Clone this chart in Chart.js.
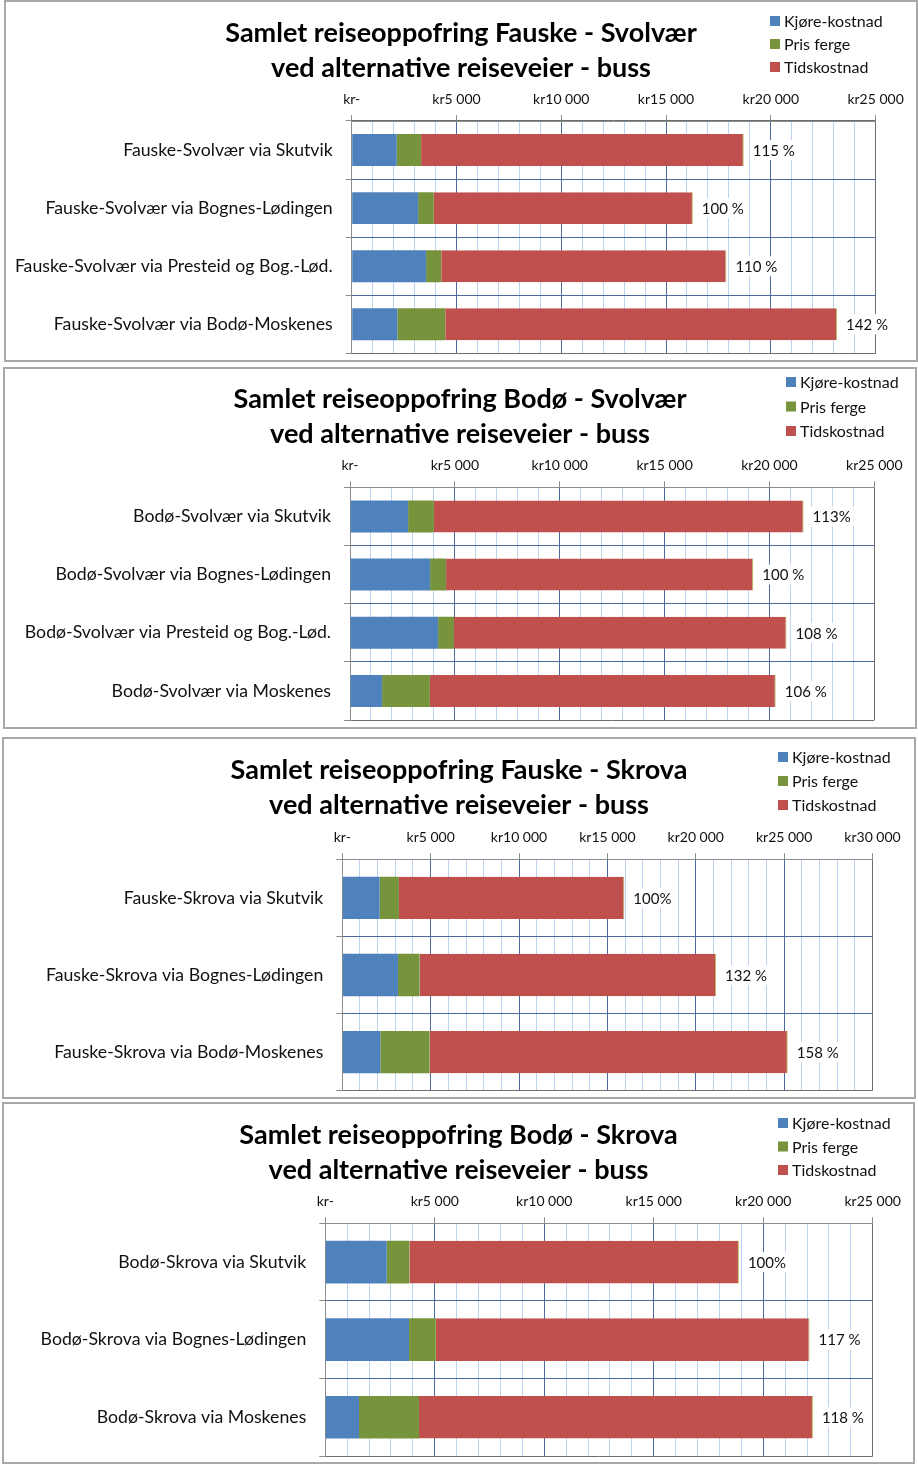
<!DOCTYPE html>
<html><head><meta charset="utf-8">
<script src="https://cdn.jsdelivr.net/npm/chart.js@4.4.1/dist/chart.umd.min.js"></script>
<style>
body{margin:0;background:#fff;width:918px;height:1466px;position:relative;overflow:hidden}
.panel{position:absolute;box-sizing:border-box;border:2px solid #a8a8a8;background:#fff}
.panel canvas{position:absolute;left:0;top:0}
</style></head><body>
<div class="panel" id="p1" style="left:4px;top:0px;width:914px;height:362px"><canvas id="c1"></canvas></div>
<div class="panel" id="p2" style="left:3px;top:367px;width:914px;height:362px"><canvas id="c2"></canvas></div>
<div class="panel" id="p3" style="left:2px;top:737px;width:914px;height:362px"><canvas id="c3"></canvas></div>
<div class="panel" id="p4" style="left:2px;top:1102px;width:913px;height:362px"><canvas id="c4"></canvas></div>
<script>
// ---- data ----
const seriesNames = ['Kjøre-kostnad', 'Pris ferge', 'Tidskostnad'];
const seriesColors = ['#4F81BD', '#77933C', '#C0504D'];

const titles1 = ['Samlet reiseoppofring Fauske - Svolvær', 'ved alternative reiseveier - buss'];
const categories1 = ['Fauske-Svolvær via Skutvik', 'Fauske-Svolvær via Bognes-Lødingen', 'Fauske-Svolvær via Presteid og Bog.-Lød.', 'Fauske-Svolvær via Bodø-Moskenes'];
const kjore1 = [2150, 3170, 3550, 2180];
const ferge1 = [1160, 750, 720, 2280];
const tid1 = [15400, 12360, 13610, 18700];
const pct1 = ['115 %', '100 %', '110 %', '142 %'];
const ticks1 = ['kr-', 'kr5 000', 'kr10 000', 'kr15 000', 'kr20 000', 'kr25 000'];

const titles2 = ['Samlet reiseoppofring Bodø - Svolvær', 'ved alternative reiseveier - buss'];
const categories2 = ['Bodø-Svolvær via Skutvik', 'Bodø-Svolvær via Bognes-Lødingen', 'Bodø-Svolvær via Presteid og Bog.-Lød.', 'Bodø-Svolvær via Moskenes'];
const kjore2 = [2770, 3820, 4200, 1530];
const ferge2 = [1230, 760, 760, 2280];
const tid2 = [17630, 14650, 15855, 16490];
const pct2 = ['113%', '100 %', '108 %', '106 %'];
const ticks2 = ['kr-', 'kr5 000', 'kr10 000', 'kr15 000', 'kr20 000', 'kr25 000'];

const titles3 = ['Samlet reiseoppofring Fauske - Skrova', 'ved alternative reiseveier - buss'];
const categories3 = ['Fauske-Skrova via Skutvik', 'Fauske-Skrova via Bognes-Lødingen', 'Fauske-Skrova via Bodø-Moskenes'];
const kjore3 = [2115, 3150, 2150];
const ferge3 = [1090, 1225, 2790];
const tid3 = [12755, 16775, 20265];
const pct3 = ['100%', '132 %', '158 %'];
const ticks3 = ['kr-', 'kr5 000', 'kr10 000', 'kr15 000', 'kr20 000', 'kr25 000', 'kr30 000'];

const titles4 = ['Samlet reiseoppofring Bodø - Skrova', 'ved alternative reiseveier - buss'];
const categories4 = ['Bodø-Skrova via Skutvik', 'Bodø-Skrova via Bognes-Lødingen', 'Bodø-Skrova via Moskenes'];
const kjore4 = [2805, 3825, 1540];
const ferge4 = [1035, 1220, 2740];
const tid4 = [15050, 17070, 17990];
const pct4 = ['100%', '117 %', '118 %'];
const ticks4 = ['kr-', 'kr5 000', 'kr10 000', 'kr15 000', 'kr20 000', 'kr25 000'];

// ---- plugins ----
const FONT = 'Lato, "Open Sans", sans-serif';
const legendPlugin = {
  id: 'boxLegend',
  afterDraw(chart, args, o) {
    const ctx = chart.ctx; ctx.save();
    ctx.font = '16px ' + FONT; ctx.textBaseline = 'middle'; ctx.textAlign = 'left';
    chart.data.datasets.forEach((ds, i) => {
      const y = o.y + i * o.dy;
      ctx.fillStyle = ds.backgroundColor;
      ctx.fillRect(o.x, y - 5, 10, 10);
      ctx.fillStyle = '#111';
      ctx.fillText(ds.label, o.x + 14, y + 1);
    });
    ctx.restore();
  }
};
const pctPlugin = {
  id: 'pctLabels',
  afterDatasetsDraw(chart, args, o) {
    const ctx = chart.ctx; ctx.save();
    ctx.font = '15px ' + FONT; ctx.textBaseline = 'middle'; ctx.textAlign = 'left';
    const meta = chart.getDatasetMeta(chart.data.datasets.length - 1);
    meta.data.forEach((bar, i) => {
      const t = o.labels[i]; const x = bar.x + 9; const y = bar.y;
      const w = ctx.measureText(t).width;
      ctx.fillStyle = '#fff'; ctx.fillRect(x - 3, y - 10, w + 6, 20);
      ctx.fillStyle = '#111'; ctx.fillText(t, x, y + 1);
    });
    ctx.restore();
  }
};

function makeChart(id, panel, g, titles, cats, k, f, t, pct, tickLabels, maxV) {
  const ox = panel.l + 2, oy = panel.t + 2;
  const cw = panel.w - 4, ch = panel.h - 4;
  const cv = document.getElementById(id);
  cv.width = cw; cv.height = ch;
  const aL = g.l - ox, aR = g.r - ox, aT = g.t - oy, aB = g.b - oy;
  const pad = 2;
  const titleLH = 35;
  const titlePadTop = (g.titleY - oy) - titleLH / 2;
  const titleH = titlePadTop + 2 * titleLH;
  const xH = aT - titleH;
  const yW = aL - pad;
  const rightW = cw - aR - pad;
  const n = cats.length;
  const minorCol = '#bcd2ee', majorCol = '#4a6b9c', axisCol = '#8c8c8c', frameCol = '#6e6e6e';
  return new Chart(cv, {
    type: 'bar',
    data: {
      labels: cats,
      datasets: [
        { label: seriesNames[0], data: k, backgroundColor: seriesColors[0] },
        { label: seriesNames[1], data: f, backgroundColor: seriesColors[1] },
        { label: seriesNames[2], data: t, backgroundColor: seriesColors[2],
          borderColor: '#b5bd5a', borderWidth: { top: 0, right: 1, bottom: 0, left: 0 }, borderSkipped: false }
      ]
    },
    plugins: [legendPlugin, pctPlugin],
    options: {
      indexAxis: 'y', responsive: false, maintainAspectRatio: false, animation: false,
      layout: { padding: { left: pad, right: pad, top: 0, bottom: ch - aB } },
      datasets: { bar: { barPercentage: 0.55, categoryPercentage: 1 } },
      plugins: {
        legend: { display: false },
        tooltip: { enabled: false },
        title: { display: true, text: titles, color: '#000',
          font: { family: FONT, size: 27, weight: 'bold', lineHeight: titleLH + 'px' },
          padding: { top: titlePadTop, bottom: 0 } },
        boxLegend: { x: g.lgX - ox, y: g.lgY - oy, dy: g.lgDy },
        pctLabels: { labels: pct }
      },
      scales: {
        x: {
          position: 'top', stacked: true, min: 0, max: maxV,
          afterFit: s => { s.height = xH; s.paddingLeft = 0; s.paddingRight = 0; },
          afterBuildTicks: s => { const a = []; for (let v = 0; v <= maxV; v += 1000) a.push({ value: v }); s.ticks = a; },
          ticks: { autoSkip: false, maxRotation: 0, minRotation: 0, padding: 7, color: '#111',
            font: { family: FONT, size: 14 },
            callback: v => (v % 5000 === 0 ? tickLabels[v / 5000] : '') },
          grid: { tickLength: 6,
            color: c => { const v = c.tick ? c.tick.value : -1; if (v === 0) return axisCol; if (v === maxV) return frameCol; return v % 5000 === 0 ? majorCol : minorCol; },
            tickColor: c => { const v = c.tick ? c.tick.value : -1; return v % 5000 === 0 ? axisCol : 'rgba(0,0,0,0)'; } },
          border: { color: axisCol, width: 1 }
        },
        y: {
          stacked: true,
          afterFit: s => { s.width = yW; s.paddingTop = 0; s.paddingBottom = 0; },
          ticks: { padding: 13, color: '#111', font: { family: FONT, size: 17.7 } },
          grid: { offset: true, tickLength: 6,
            color: c => { const i = c.index; if (i === undefined || i === 0 || i >= n) return frameCol; return majorCol; },
            tickColor: axisCol },
          border: { color: axisCol, width: 1 }
        },
        ySpace: {
          type: 'linear', axis: 'y', position: 'right',
          afterFit: s => { s.width = rightW; s.paddingTop = 0; s.paddingBottom = 0; },
          ticks: { display: false }, grid: { display: false, drawTicks: false }, border: { display: false }
        }
      }
    }
  });
}

makeChart('c1', { l: 4, t: 0, w: 914, h: 362 },
  { l: 351.7, r: 875.6, t: 121, b: 353.3, titleY: 33, lgX: 770, lgY: 21, lgDy: 23 },
  titles1, categories1, kjore1, ferge1, tid1, pct1, ticks1, 25000);
makeChart('c2', { l: 3, t: 367, w: 914, h: 362 },
  { l: 350, r: 874.3, t: 487.3, b: 720, titleY: 399, lgX: 786, lgY: 382, lgDy: 24.5 },
  titles2, categories2, kjore2, ferge2, tid2, pct2, ticks2, 25000);
makeChart('c3', { l: 2, t: 737, w: 914, h: 362 },
  { l: 342.3, r: 872.5, t: 859.3, b: 1090.7, titleY: 770, lgX: 778, lgY: 757, lgDy: 24 },
  titles3, categories3, kjore3, ferge3, tid3, pct3, ticks3, 30000);
makeChart('c4', { l: 2, t: 1102, w: 913, h: 362 },
  { l: 325.3, r: 872.7, t: 1223.3, b: 1456, titleY: 1135, lgX: 778, lgY: 1123, lgDy: 23.5 },
  titles4, categories4, kjore4, ferge4, tid4, pct4, ticks4, 25000);
</script>
</body></html>
